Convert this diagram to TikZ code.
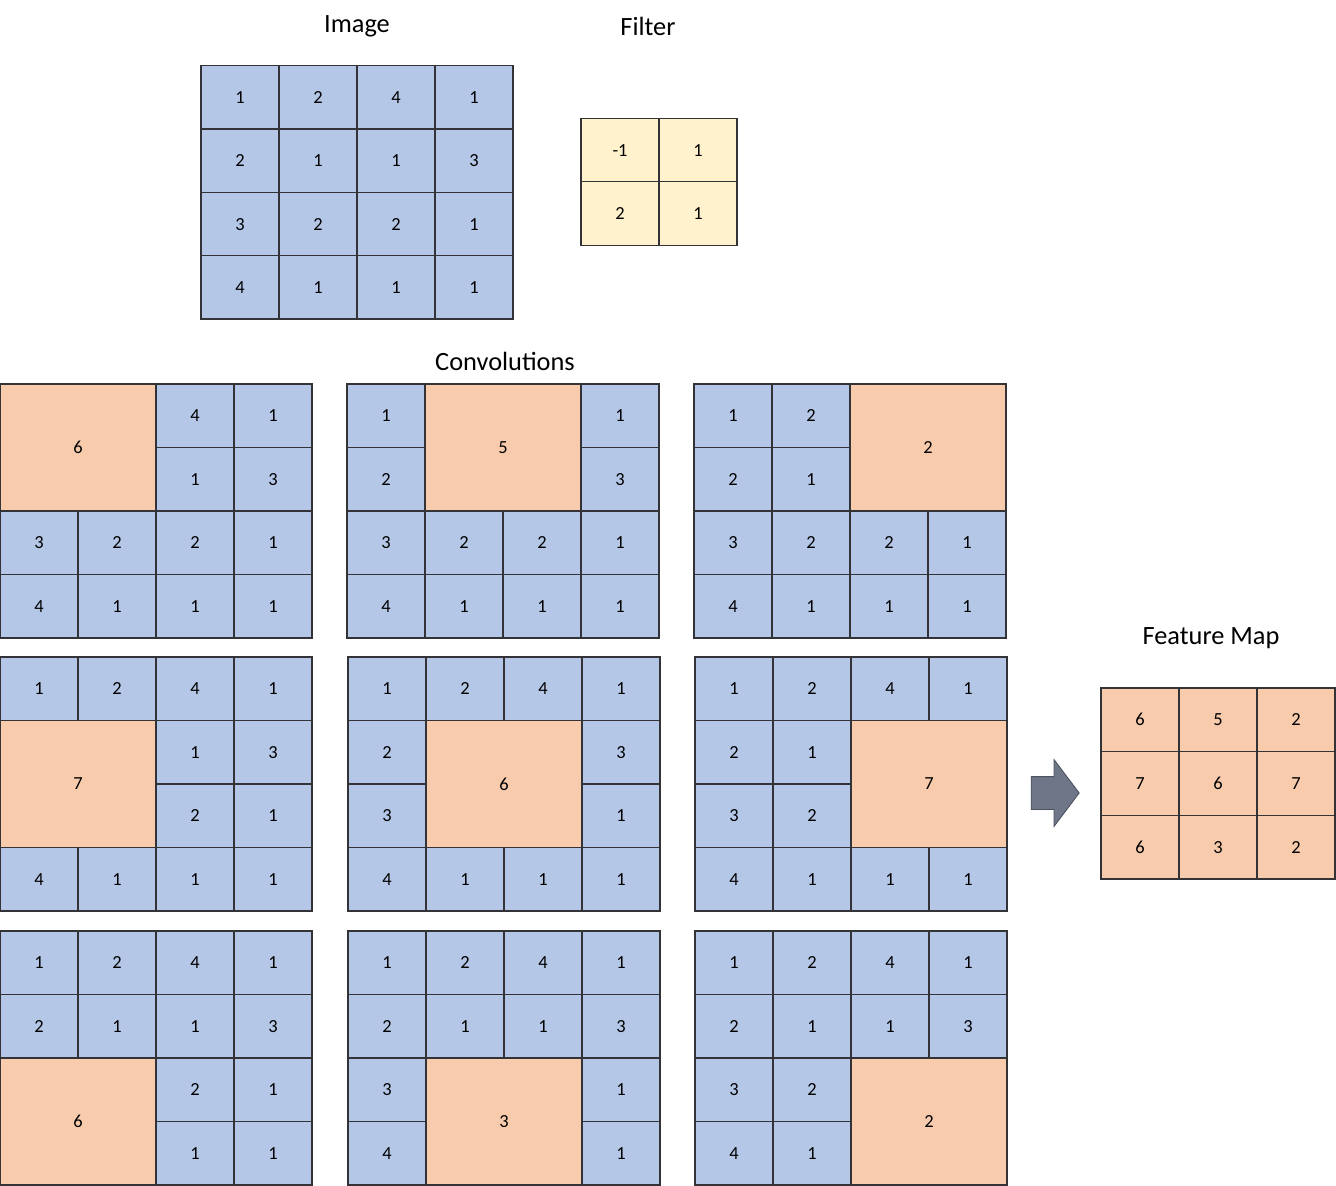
\documentclass[tikz,border=0pt]{standalone}
\usepackage{fontspec}
\setmainfont{Carlito}
\usetikzlibrary{shapes.arrows}

\definecolor{cellblue}{RGB}{180,199,231}
\definecolor{cellorange}{RGB}{248,203,173}
\definecolor{cellyellow}{RGB}{255,242,204}
\definecolor{arrowgray}{RGB}{110,118,135}
\definecolor{gridline}{RGB}{50,50,55}

\newcommand\imagerows{{1,2,4,1},{2,1,1,3},{3,2,2,1},{4,1,1,1}}

\begin{document}
\begin{tikzpicture}[
    x=0.02cm, y=-0.02cm,
    cell/.style={draw=gridline, line width=0.7pt, rectangle, minimum width=1.56cm, minimum height=1.27cm, inner sep=0pt, outer sep=0pt, font=\fontsize{10.5}{12}\selectfont, fill=cellblue},
    block/.style={cell, fill=cellorange, minimum width=3.12cm, minimum height=2.54cm},
    title/.style={font=\fontsize{15}{18}\selectfont}
]
    \useasboundingbox (0,0) rectangle (1336,1186);

    % titles
    \node[title] (imgtitle) at (357,26) {Image};
    \node[title] (filtertitle) at (648,26) {Filter};
    \node[title] (convtitle) at (505,361) {Convolutions};
    \node[title] (maptitle) at (1211,638) {Feature Map};

    % input image
    \foreach \row [count=\i from 0] in \imagerows
        \foreach \v [count=\j from 0] in \row
            \node[cell] (img-\i-\j) at ({201+78*\j+39},{66+63.25*\i+31.6}) {\v};

    % filter
    \foreach \row [count=\i from 0] in {{-1,1},{2,1}}
        \foreach \v [count=\j from 0] in \row
            \node[cell, fill=cellyellow] (filt-\i-\j) at ({581+78*\j+39},{119+63*\i+31.5}) {\v};

    % convolution steps: index/x/y/block row/block col/result
    \foreach \k/\gx/\gy/\bi/\bj/\val in {1/0/384/0/0/6, 2/347/384/0/1/5, 3/694/384/0/2/2,
                                         4/0/657/1/0/7, 5/348/657/1/1/6, 6/695/657/1/2/7,
                                         7/0/931/2/0/6, 8/348/931/2/1/3, 9/695/931/2/2/2} {
        \foreach \row [count=\i from 0] in \imagerows {
            \foreach \v [count=\j from 0] in \row {
                \pgfmathtruncatemacro\hide{and(and(\i>\bi-1,\i<\bi+2),and(\j>\bj-1,\j<\bj+2))}
                \ifnum\hide=0
                    \node[cell] (conv\k-\i-\j) at ({\gx+78*\j+39},{\gy+63.5*\i+31.75}) {\v};
                \fi
            }
        }
        \node[block] (conv\k-out) at ({\gx+78*\bj+78},{\gy+63.5*\bi+63.5}) {\val};
    }

    % arrow to the result
    \node[single arrow, fill=arrowgray, draw=arrowgray!70!black, line width=0.5pt, minimum height=0.96cm, inner sep=0.32cm, single arrow head extend=0.34cm, single arrow tip angle=106] (toMap) at (1049,793) {};

    % feature map
    \foreach \row [count=\i from 0] in {{6,5,2},{7,6,7},{6,3,2}}
        \foreach \v [count=\j from 0] in \row
            \node[cell, fill=cellorange] (map-\i-\j) at ({1101+78*\j+39},{688+63.67*\i+31.8}) {\v};

\end{tikzpicture}
\end{document}
